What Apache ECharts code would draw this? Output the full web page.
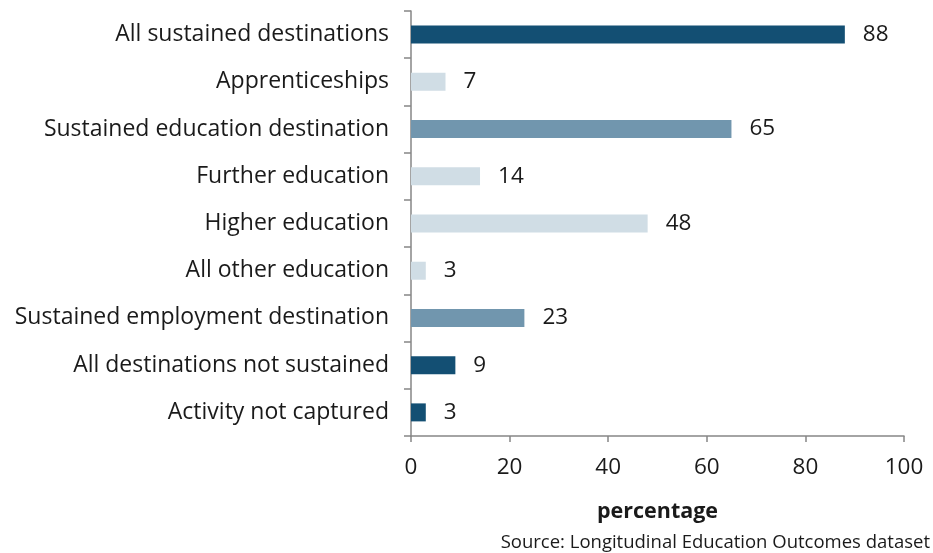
<!DOCTYPE html>
<html>
<head>
<meta charset="utf-8">
<script src="https://cdn.jsdelivr.net/npm/echarts@6/dist/echarts.min.js"></script>
<style>
  html, body { margin: 0; padding: 0; background: #ffffff; }
  #chart { width: 933px; height: 553px; }
</style>
</head>
<body>
<div id="chart"></div>
<script>
// Destination categories, top to bottom
const categories = [
  'All sustained destinations',
  'Apprenticeships',
  'Sustained education destination',
  'Further education',
  'Higher education',
  'All other education',
  'Sustained employment destination',
  'All destinations not sustained',
  'Activity not captured'
];
// Percentage of pupils in each destination
const values = [88, 7, 65, 14, 48, 3, 23, 9, 3];
// Shade level: 0 = headline, 1 = sub-total, 2 = detail
const levels = [0, 2, 1, 2, 2, 2, 1, 0, 0];
const xTicks = [0, 20, 40, 60, 80, 100];

const shades = ['#134f73', '#7196ae', '#d0dde5'];
const FONT = '"Open Sans"';
const INK = '#1a1a1a';

const chart = echarts.init(document.getElementById('chart'));
chart.setOption({
  animation: false,
  grid: { left: 411, right: 29, top: 11, bottom: 117 },
  xAxis: {
    type: 'value',
    min: xTicks[0],
    max: xTicks[xTicks.length - 1],
    interval: 20,
    name: 'percentage',
    nameLocation: 'middle',
    nameGap: 65,
    nameTextStyle: { fontFamily: FONT, fontSize: 21.5, fontWeight: 'bold', color: INK },
    axisLine: { show: true, lineStyle: { color: '#868686', width: 1.5 } },
    axisTick: { show: true, length: 6, lineStyle: { color: '#868686', width: 1.5 } },
    axisLabel: { fontFamily: FONT, fontSize: 22.5, color: INK, margin: 20 },
    splitLine: { show: false }
  },
  yAxis: {
    type: 'category',
    inverse: true,
    data: categories,
    axisLine: { show: true, lineStyle: { color: '#868686', width: 1.5 } },
    axisTick: { show: true, length: 7, lineStyle: { color: '#868686', width: 1.5 } },
    axisLabel: { fontFamily: FONT, fontSize: 23, color: INK, margin: 22 }
  },
  series: [{
    type: 'bar',
    barWidth: 18,
    data: values.map((v, i) => ({ value: v, itemStyle: { color: shades[levels[i]] } })),
    label: {
      show: true,
      position: 'right',
      distance: 18,
      fontFamily: FONT,
      fontSize: 22.5,
      color: INK
    }
  }],
  graphic: [{
    type: 'text',
    right: 3,
    bottom: 1,
    style: {
      text: 'Source: Longitudinal Education Outcomes dataset',
      fontFamily: FONT,
      fontSize: 18.5,
      fill: INK
    }
  }]
});
</script>
</body>
</html>
